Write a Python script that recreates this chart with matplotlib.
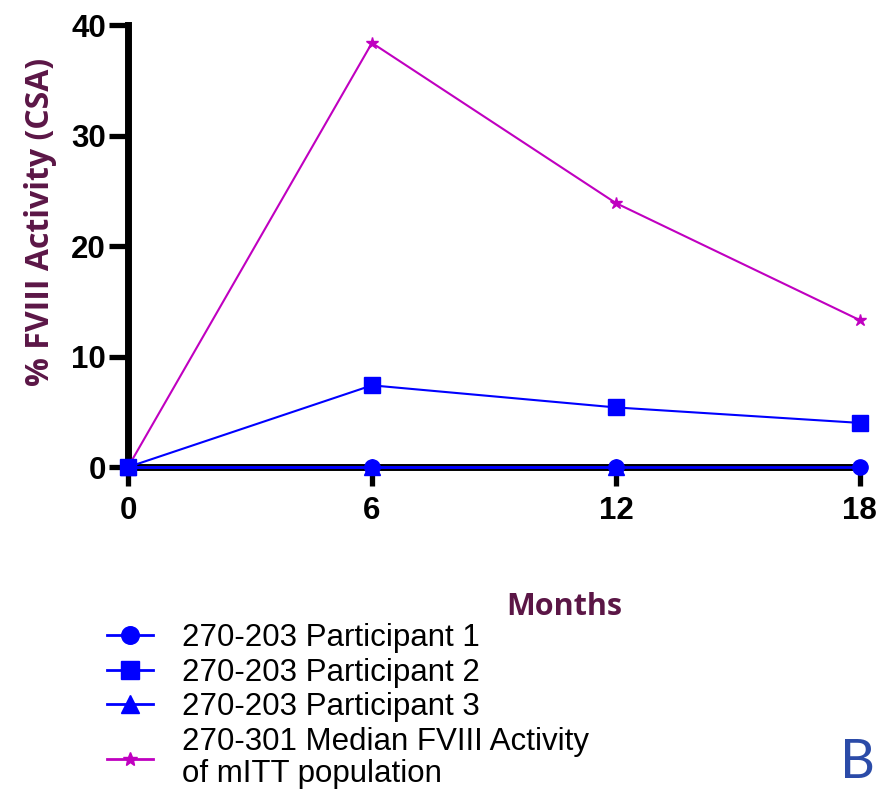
import numpy as np
import matplotlib
matplotlib.use("Agg")
import matplotlib.pyplot as plt

months = [0, 6, 12, 18]
participant_1 = [0, 0, 0, 0]
participant_2 = [0, 7.4, 5.4, 4.0]
participant_3 = [0, 0, 0, np.nan]
median_301 = [0, 38.4, 23.9, 13.3]

labels = [
    "270-203 Participant 1",
    "270-203 Participant 2",
    "270-203 Participant 3",
    "270-301 Median FVIII Activity\nof mITT population",
]

blue = "#0000FF"
magenta = "#C000C0"
purple = "#5B1646"

fig = plt.figure(figsize=(8.81, 7.89), dpi=100)
ax = fig.add_axes([0.1453, 0.408, 0.8307, 0.560])

h3, = ax.plot(months, participant_3, color=blue, lw=2, marker="^", ms=11, clip_on=False, zorder=4)
h1, = ax.plot(months, participant_1, color=blue, lw=2, marker="o", ms=11, clip_on=False, zorder=5)
h2, = ax.plot(months, participant_2, color=blue, lw=1.5, marker="s", ms=11.5, clip_on=False, zorder=6)
h4, = ax.plot(months, median_301, color=magenta, lw=1.5, marker="*", ms=9, clip_on=False, zorder=3)

ax.set_xlim(0, 18)
ax.set_ylim(0, 40)
ax.set_xticks(months)
ax.set_yticks([0, 10, 20, 30, 40])

for side in ("top", "right"):
    ax.spines[side].set_visible(False)
for side in ("left", "bottom"):
    ax.spines[side].set_linewidth(5)
    ax.spines[side].set_color("black")
    ax.spines[side].set_zorder(2)

ax.tick_params(axis="both", length=14, width=3.8, color="black")
ax.tick_params(axis="x", pad=7)
ax.tick_params(axis="y", pad=2)
for lab in ax.get_xticklabels() + ax.get_yticklabels():
    lab.set_fontfamily("Liberation Sans")
    lab.set_fontweight("bold")
    lab.set_fontsize(22.5)

fig.text(0.0465, 0.7186, "% FVIII Activity (CSA)", rotation=90, ha="center", va="center",
         color=purple, fontsize=23, fontweight="bold", family="Open Sans")
fig.text(0.640, 0.2305, "Months", ha="center", va="center",
         color=purple, fontsize=22, fontweight="bold", family="Open Sans")

leg = fig.legend([h1, h2, h3, h4], labels, loc="upper left", bbox_to_anchor=(0.1215, 0.2104),
                 frameon=False, prop={"family": "Liberation Sans", "size": 22.5},
                 handlelength=1.47, handletextpad=0.93, labelspacing=0.15, borderpad=0,
                 borderaxespad=0, markerscale=1.15)
for t in leg.get_texts():
    t.set_linespacing(1.1)
for lh in leg.legend_handles:
    lh.set_linewidth(2)

fig.text(0.993, 0.034, "B", ha="right", va="center", color="#2B4BA8", fontsize=39,
         family="Lato", fontweight="normal")

fig.savefig("out.png", dpi=100)
